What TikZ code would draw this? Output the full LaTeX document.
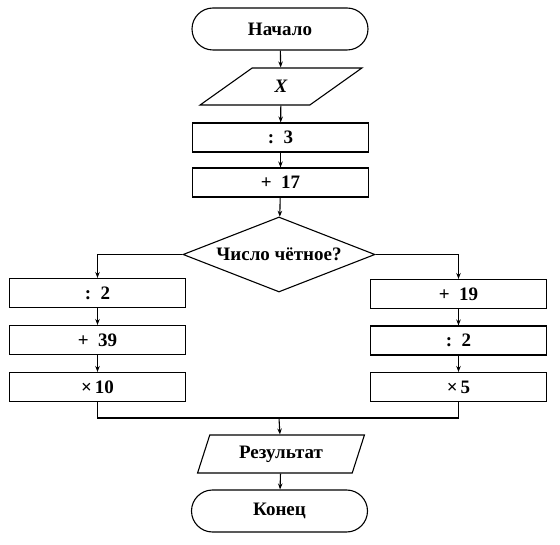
\documentclass[tikz,border=0pt]{standalone}
\usepackage{fontspec}
\setmainfont{Liberation Serif}
\usetikzlibrary{shapes.geometric,arrows.meta}

\begin{document}
\begin{tikzpicture}[x=1pt,y=-1pt,line width=1.1pt,
  every node/.style={font=\fontsize{19}{21}\selectfont\bfseries},
  box/.style={draw,rectangle,minimum width=176pt,minimum height=29pt,inner sep=0pt},
  io/.style={draw,trapezium,trapezium stretches=true,inner sep=0pt},
  cond/.style={draw,diamond,aspect=2.56,minimum width=192pt,minimum height=75pt,inner sep=0pt},
  arr/.style={-{Stealth[length=6pt,width=4.5pt]}}]
\useasboundingbox (0,0) rectangle (560,545);
\node[draw,rounded corners=21pt,minimum width=176pt,minimum height=42pt](start)at(280,29){Начало};
\node[io,trapezium left angle=47.4,trapezium right angle=132.6,minimum width=162pt,minimum height=37pt](in)at(281,86.5){\itshape X};
\node[box](d3)at(280.5,137.5){:\enspace3};
\node[box](p17)at(280.5,182.5){+\enspace17};
\node[cond](ch)at(279,254.5){Число чётное?};
\node[box](l1)at(97.5,293){:\enspace2};
\node[box](l2)at(97.5,340){+\enspace39};
\node[box](l3)at(97.5,387){×\,10};
\node[box](r1)at(458.5,294){+\enspace19};
\node[box](r2)at(458.5,340.5){:\enspace2};
\node[box](r3)at(458.5,387){×\,5};
\coordinate(m)at(279,418);
\node[io,trapezium left angle=66.5,trapezium right angle=113.5,minimum width=168pt,minimum height=38pt](out)at(281,454){Результат};
\node[draw,rounded corners=21pt,minimum width=176pt,minimum height=42pt](stop)at(279.5,511){Конец};
\draw[arr] (start)--(in);
\draw[arr] (in)--(d3);
\draw[arr] (d3)--(p17);
\draw[arr] (p17)--(ch);
\draw[arr] (ch.west)-|(l1.north);
\draw[arr] (ch.east)-|(r1.north);
\draw[arr] (l1)--(l2);
\draw[arr] (l2)--(l3);
\draw[arr] (r1)--(r2);
\draw[arr] (r2)--(r3);
\draw (l3.south)|-(m)-|(r3.south);
\draw[arr] (m)--(out);
\draw[arr] (out)--(stop);
\end{tikzpicture}
\end{document}
